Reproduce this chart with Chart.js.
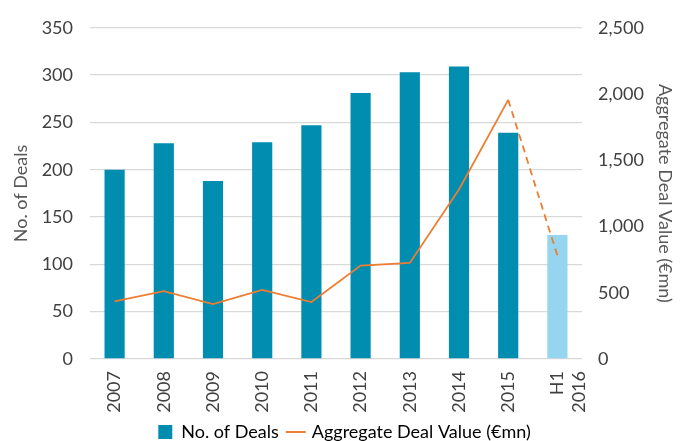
<!DOCTYPE html>
<html>
<head>
<meta charset="utf-8">
<script src="https://cdn.jsdelivr.net/npm/chart.js@4/dist/chart.umd.min.js"></script>
<style>
  html, body { margin: 0; padding: 0; background: #fff; }
  #wrap { width: 689px; height: 441px; }
</style>
</head>
<body>
<div id="wrap"><canvas id="dealsChart"></canvas></div>
<script>
// donnees
const annees = ["2007", "2008", "2009", "2010", "2011", "2012", "2013", "2014", "2015", ["H1", "2016"]];
const nbDeals = [200, 228, 188, 229, 247, 281, 303, 309, 239, 131];
const valeurDeals = [435, 512, 415, 522, 430, 705, 725, 1280, 1956, 781];
const ticksGauche = [0, 50, 100, 150, 200, 250, 300, 350];
const ticksDroite = [0, 500, 1000, 1500, 2000, 2500];

const bleu = "#008DB0";
const bleuClair = "#96D5EF";
const orange = "#ED7D31";

Chart.defaults.font.family = "Lato";
Chart.defaults.font.size = 18;
Chart.defaults.color = "#404040";

// hauteur fixe de la legende pour la placer comme sur l'original
const legendeFixe = {
  id: "legendeFixe",
  afterInit(chart) {
    const lg = chart.legend;
    const fitOrig = lg.fit;
    lg.fit = function () {
      fitOrig.call(this);
      this.height = 28;
    };
  }
};

const ctx = document.getElementById("dealsChart").getContext("2d");
new Chart(ctx, {
  data: {
    labels: annees,
    datasets: [
      {
        type: "line",
        label: "Aggregate Deal Value (€mn)",
        data: valeurDeals,
        yAxisID: "y1",
        borderColor: orange,
        backgroundColor: orange,
        borderWidth: 1.8,
        pointRadius: 0,
        tension: 0,
        segment: {
          borderDash: c => (c.p1DataIndex === valeurDeals.length - 1 ? [7, 5] : undefined)
        }
      },
      {
        type: "bar",
        label: "No. of Deals",
        data: nbDeals,
        yAxisID: "y",
        backgroundColor: nbDeals.map((v, i) => (i === nbDeals.length - 1 ? bleuClair : bleu)),
        borderWidth: 0,
        barPercentage: 0.41,
        categoryPercentage: 1
      }
    ]
  },
  options: {
    responsive: true,
    maintainAspectRatio: false,
    animation: false,
    layout: { padding: { top: 20, left: 0, right: 0, bottom: 0 } },
    plugins: {
      legend: {
        position: "bottom",
        labels: {
          padding: 10,
          boxWidth: 14,
          boxHeight: 14,
          color: "#404040",
          font: { size: 18 },
          usePointStyle: true,
          generateLabels: chart => {
            const ds = chart.data.datasets;
            return [
              { text: ds[1].label, fillStyle: bleu, strokeStyle: bleu, lineWidth: 0, pointStyle: "rect", datasetIndex: 1 },
              { text: ds[0].label, fillStyle: orange, strokeStyle: orange, lineWidth: 2, pointStyle: "line", datasetIndex: 0 }
            ];
          }
        }
      },
      tooltip: { enabled: false }
    },
    scales: {
      x: {
        grid: { display: false, drawTicks: false },
        border: { display: false },
        ticks: { minRotation: 90, maxRotation: 90, padding: 12, autoSkip: false },
        afterFit: s => { s.height = 54; }
      },
      y: {
        position: "left",
        min: 0,
        max: 350,
        afterBuildTicks: s => { s.ticks = ticksGauche.map(v => ({ value: v })); },
        grid: { color: "#d9d9d9", lineWidth: 1.3, drawTicks: false },
        border: { display: false },
        ticks: { padding: 17 },
        title: { display: true, text: "No. of Deals", color: "#595959", padding: { top: 10, bottom: 0 } },
        afterFit: s => { s.width = 90; }
      },
      y1: {
        position: "right",
        min: 0,
        max: 2500,
        afterBuildTicks: s => { s.ticks = ticksDroite.map(v => ({ value: v })); },
        grid: { display: false, drawTicks: false },
        border: { display: false },
        ticks: { padding: 16, callback: v => v.toLocaleString("en-US") },
        title: { display: true, text: "Aggregate Deal Value (€mn)", color: "#595959", padding: { top: 13, bottom: 0 } },
        afterFit: s => { s.width = 107; }
      }
    }
  },
  plugins: [legendeFixe]
});
</script>
</body>
</html>
